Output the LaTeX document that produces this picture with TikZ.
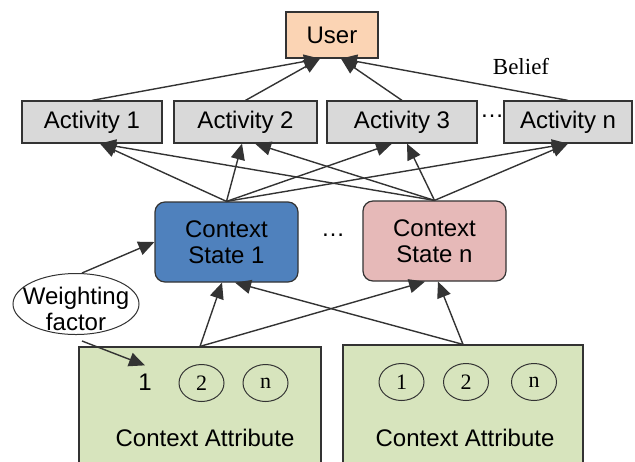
\documentclass[tikz,border=0pt]{standalone}
\usepackage{fontspec}
\setmainfont{Liberation Sans}
\newfontfamily\timesfont{Liberation Serif}
\usetikzlibrary{arrows.meta, shapes.geometric}
\definecolor{userorange}{HTML}{FBD4B4}
\definecolor{actgray}{HTML}{D9D9D9}
\definecolor{stateblue}{HTML}{4F81BD}
\definecolor{statepink}{HTML}{E6B9B8}
\definecolor{attrgreen}{HTML}{D7E4BD}
\definecolor{linegray}{HTML}{333333}

\begin{document}
\begin{tikzpicture}[x=0.5pt, y=-0.5pt,
      box/.style={draw=linegray, line width=0.6pt, inner sep=0pt, font=\fontsize{12}{13}\selectfont},
      act/.style={box, fill=actgray, minimum height=21pt},
      cstate/.style={box, rounded corners=5pt, minimum width=71.5pt, minimum height=40pt, align=center},
      attr/.style={box, fill=attrgreen, minimum height=64pt},
      num/.style={ellipse, draw=linegray, line width=0.5pt, minimum width=22.5pt, minimum height=18.5pt,
                  inner sep=0pt, font=\timesfont\fontsize{11}{12}\selectfont},
      txt/.style={inner sep=1pt, font=\fontsize{12}{13}\selectfont},
      arr/.style={-{Triangle[length=8pt, width=7pt]}, linegray, line width=0.7pt},
    ]
    \useasboundingbox (0,0) rectangle (635,461);
    % --- user and activities ------------------------------------------
    \node[box, fill=userorange, minimum width=46pt, minimum height=23pt] (user) at (332,35) {User};
    \foreach \nm/\cx/\w/\lab in {a1/92/70/1, a2/245.5/71.5/2, a3/402/75/3, an/568/64/n} {
      \node[act, minimum width=\w pt] (\nm) at (\cx,122) {Activity \lab};
    }
    \node[txt] (dotsA) at (492,116) {\dots};
    \node[txt, font=\timesfont\fontsize{11.5}{12}\selectfont] (belief) at (521,67) {Belief};
    % --- context states -----------------------------------------------
    \node[cstate, fill=stateblue] (cs1) at (226.5,242) {Context\\State 1};
    \node[cstate, fill=statepink] (csn) at (434.5,241) {Context\\State n};
    \node[txt] (dotsC) at (333,235) {\dots};
    % --- weighting factor ---------------------------------------------
    \node[ellipse, draw=linegray, line width=0.5pt, inner sep=0pt,
          minimum width=63pt, minimum height=30.5pt] (wf) at (76,304) {};
    \node[txt, align=center] (wflbl) at (76,309) {Weighting\\factor};
    % --- context attributes -------------------------------------------
    \node[attr, minimum width=121pt] (ca1) at (200,411) {};
    \node[attr, minimum width=120pt] (ca2) at (463,409) {};
    \node[txt] (one1) at (145,382) {1};
    \node[num] (two1) at (201.5,383) {2};
    \node[num] (n1) at (265.5,383) {n};
    \node[num] (one2) at (401.5,382) {1};
    \node[num] (two2) at (466,382) {2};
    \node[num] (n2) at (534,382) {n};
    \node[txt] (ca1lbl) at (205,438) {Context Attribute};
    \node[txt] (ca2lbl) at (465,438) {Context Attribute};
    % --- belief arrows into the user ----------------------------------
    \draw[arr] (a1.north) -- ([xshift=-6pt]user.south);
    \draw[arr] (a2.north) -- ([xshift=-6pt]user.south);
    \draw[arr] (a3.north) -- ([xshift=4.5pt]user.south);
    \draw[arr] (an.north) -- ([xshift=4.5pt]user.south);
    % --- states to activities -----------------------------------------
    \draw[arr] (cs1.north) -- ([xshift=4pt]a1.south);
    \draw[arr] (csn.north) -- ([xshift=4pt]a1.south);
    \draw[arr] (cs1.north) -- ([xshift=-1.75pt]a2.south);
    \draw[arr] (csn.north) -- ([xshift=4.75pt]a2.south);
    \draw[arr] (cs1.north) -- ([xshift=-5pt]a3.south);
    \draw[arr] (csn.north) -- ([xshift=2.5pt]a3.south);
    \draw[arr] (cs1.north) -- (an.south);
    \draw[arr] (csn.north) -- (an.south);
    % --- attributes to states -----------------------------------------
    \draw[arr] (ca1.north) -- ([xshift=-2.25pt]cs1.south);
    \draw[arr] (ca2.north) -- ([xshift=4.25pt]cs1.south);
    \draw[arr] (ca1.north) -- ([xshift=-4.75pt]csn.south);
    \draw[arr] (ca2.north) -- ([xshift=1.75pt]csn.south);
    % --- weighting factor arrows --------------------------------------
    \draw[arr] ([xshift=3pt]wf.north) -- (cs1.west);
    \draw[arr] ([xshift=3pt, yshift=-3pt]wf.south) -- ([yshift=3pt]one1.north);
  \end{tikzpicture}
\end{document}
